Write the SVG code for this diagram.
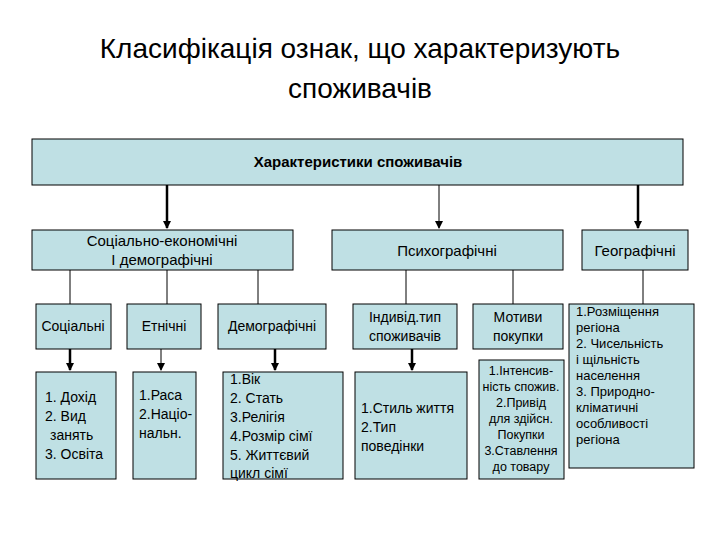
<svg xmlns="http://www.w3.org/2000/svg" width="720" height="540" viewBox="0 0 720 540">
<style>
.b{fill:#bfe0e4;stroke:#000;stroke-width:1}
text{font-family:"Liberation Sans",Arial,sans-serif;fill:#000}
.t{font-size:15px}
.s{font-size:14px}
.c{stroke:#000;stroke-width:1;fill:none}
.k{stroke:#000;stroke-width:2.5;fill:none}
</style>
<defs><marker id="a" markerWidth="8" markerHeight="8" refX="7" refY="4" orient="auto" markerUnits="userSpaceOnUse"><path d="M0,0L8,4L0,8z" fill="#000"/></marker></defs>
<rect width="720" height="540" fill="#fff"/>
<g id="title"><text x="360" y="58" font-size="28" text-anchor="middle">Класифікація ознак, що характеризують</text><text x="360" y="98" font-size="28" text-anchor="middle">споживачів</text></g>
<g id="connectors">
<path class="k" d="M167,185V228" marker-end="url(#a)"/>
<path class="c" d="M439,185V228" marker-end="url(#a)"/>
<path class="k" d="M638,185V228" marker-end="url(#a)"/>
<path class="c" d="M70,270V304M167,270V304M258,270V304M406,270V304M513,270V304M643,270V304"/>
<path class="k" d="M70,349V370" marker-end="url(#a)"/>
<path class="c" d="M161,349V370" marker-end="url(#a)"/>
<path class="k" d="M275,349V370" marker-end="url(#a)"/>
<path class="k" d="M412,349V370" marker-end="url(#a)"/>
</g>
<g id="top"><rect class="b" x="32" y="139" width="651" height="46"/><text x="358" y="167" font-size="15" font-weight="bold" text-anchor="middle">Характеристики споживачів</text></g>
<g id="se"><rect class="b" x="32" y="230" width="261" height="40"/><text class="t" x="162" y="246" text-anchor="middle">Соціально-економічні</text><text class="t" x="162" y="265" text-anchor="middle">І демографічні</text></g>
<g id="psy"><rect class="b" x="332" y="230" width="231" height="40"/><text class="t" x="447" y="256" text-anchor="middle">Психографічні</text></g>
<g id="geo"><rect class="b" x="582" y="230" width="106" height="40"/><text class="t" x="635" y="256" text-anchor="middle">Географічні</text></g>
<g id="soc"><rect class="b" x="36" y="304" width="75" height="45"/><text class="s" x="73" y="331" text-anchor="middle">Соціальні</text></g>
<g id="eth"><rect class="b" x="127" y="304" width="74" height="45"/><text class="s" x="164" y="331" text-anchor="middle">Етнічні</text></g>
<g id="dem"><rect class="b" x="218" y="304" width="108" height="45"/><text class="s" x="272" y="331" text-anchor="middle">Демографічні</text></g>
<g id="ind"><rect class="b" x="353" y="304" width="104" height="45"/><text class="s" x="405" y="322" text-anchor="middle">Індивід.тип</text><text class="s" x="405" y="341" text-anchor="middle">споживачів</text></g>
<g id="mot"><rect class="b" x="473" y="304" width="90" height="45"/><text class="s" x="518" y="322" text-anchor="middle">Мотиви</text><text class="s" x="518" y="341" text-anchor="middle">покупки</text></g>
<g id="soc-i"><rect class="b" x="36" y="372" width="80" height="107"/><text class="s"><tspan x="45" y="402">1.   Дохід</tspan><tspan x="45" y="421">2.   Вид</tspan><tspan x="50" y="440">занять</tspan><tspan x="45" y="459">3. Освіта</tspan></text></g>
<g id="eth-i"><rect class="b" x="133" y="372" width="63" height="107"/><text class="s"><tspan x="139" y="400">1.Раса</tspan><tspan x="139" y="419">2.Націо-</tspan><tspan x="139" y="438">нальн.</tspan></text></g>
<g id="dem-i"><rect class="b" x="223" y="372" width="120" height="107"/><text class="s"><tspan x="230" y="384">1.Вік</tspan><tspan x="230" y="403">2. Стать</tspan><tspan x="230" y="422">3.Релігія</tspan><tspan x="230" y="441">4.Розмір сімї</tspan><tspan x="230" y="460">5. Життєвий</tspan><tspan x="230" y="478">цикл сімї</tspan></text></g>
<g id="ind-i"><rect class="b" x="355" y="372" width="112" height="107"/><text class="s"><tspan x="361" y="413">1.Стиль життя</tspan><tspan x="361" y="432">2.Тип</tspan><tspan x="361" y="451">поведінки</tspan></text></g>
<g id="mot-i"><rect class="b" x="479" y="360" width="85" height="119"/><text font-size="12.5" text-anchor="middle"><tspan x="521" y="375">1.Інтенсив-</tspan><tspan x="521" y="391">ність спожив.</tspan><tspan x="521" y="407">2.Привід</tspan><tspan x="521" y="423">для здійсн.</tspan><tspan x="521" y="439">Покупки</tspan><tspan x="521" y="455">3.Ставлення</tspan><tspan x="521" y="471">до товару</tspan></text></g>
<g id="geo-i"><rect class="b" x="569" y="304" width="125" height="164"/><text font-size="13"><tspan x="576" y="316">1.Розміщення</tspan><tspan x="576" y="332">регіона</tspan><tspan x="576" y="348">2. Чисельність</tspan><tspan x="576" y="364">і щільність</tspan><tspan x="576" y="380">населення</tspan><tspan x="576" y="396">3. Природно-</tspan><tspan x="576" y="412">кліматичні</tspan><tspan x="576" y="428">особливості</tspan><tspan x="576" y="444">регіона</tspan></text></g>
</svg>
